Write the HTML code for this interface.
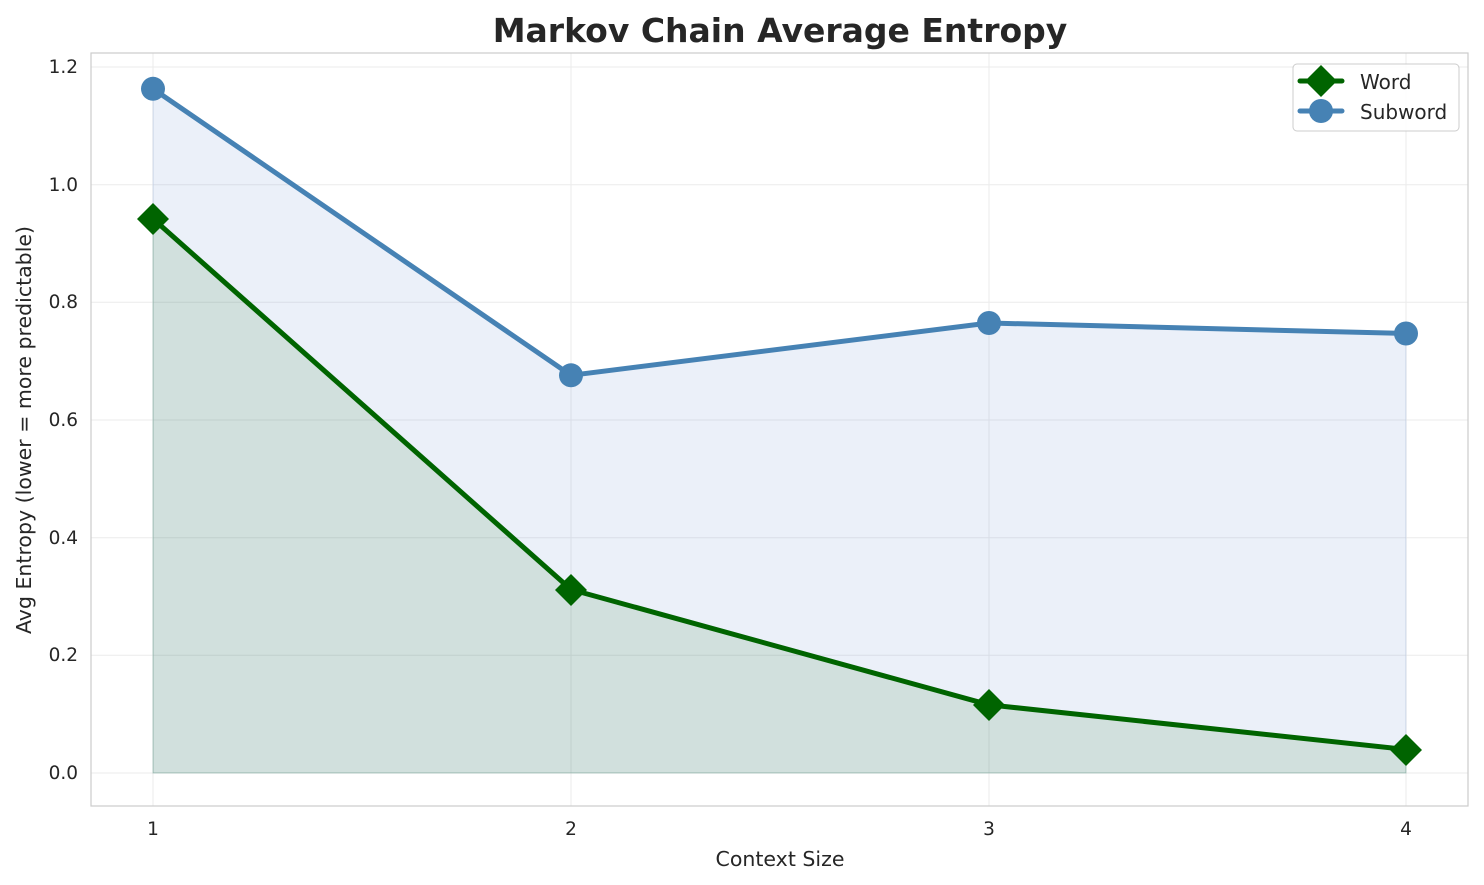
<!DOCTYPE html>
<html><head><meta charset="utf-8"><style>body{margin:0;background:#fff}svg{display:block}text{font-family:"DejaVu Sans","Liberation Sans",sans-serif;fill:#262626}</style></head><body>
<svg width="1484" height="885" viewBox="0 0 1484 885">
<rect width="1484" height="885" fill="#fff"/>
<g stroke="#ebebeb" stroke-width="1">
<line x1="153" y1="53" x2="153" y2="806"/><line x1="571" y1="53" x2="571" y2="806"/><line x1="989" y1="53" x2="989" y2="806"/><line x1="1406" y1="53" x2="1406" y2="806"/>
<line x1="91" y1="773" x2="1468" y2="773"/><line x1="91" y1="655.3" x2="1468" y2="655.3"/><line x1="91" y1="537.7" x2="1468" y2="537.7"/><line x1="91" y1="420" x2="1468" y2="420"/><line x1="91" y1="302.3" x2="1468" y2="302.3"/><line x1="91" y1="184.7" x2="1468" y2="184.7"/><line x1="91" y1="67" x2="1468" y2="67"/>
</g>
<polygon points="153,88.8 571,375.3 989,323 1406,333.5 1406,773 153,773" fill="#4a78c8" fill-opacity="0.11" stroke="#4a78c8" stroke-opacity="0.15"/>
<polygon points="153,218.8 571,589.5 989,704.8 1406,749.5 1406,773 153,773" fill="#006400" fill-opacity="0.11" stroke="#006400" stroke-opacity="0.15"/>
<rect x="91" y="53" width="1377" height="753" fill="none" stroke="#ccc" stroke-width="1.2"/>
<polyline points="153,88.8 571,375.3 989,323 1406,333.5" fill="none" stroke="#4682b4" stroke-width="5" stroke-linejoin="round"/>
<g fill="#4682b4"><circle cx="153" cy="88.8" r="12"/><circle cx="571" cy="375.3" r="12"/><circle cx="989" cy="323" r="12"/><circle cx="1406" cy="333.5" r="12"/></g>
<polyline points="153,218.8 571,589.5 989,704.8 1406,749.5" fill="none" stroke="#006400" stroke-width="5" stroke-linejoin="round"/>
<g fill="#006400">
<polygon points="153,203 169,219 153,235 137,219"/><polygon points="571,574 587,590 571,606 555,590"/><polygon points="989,689 1005,705 989,721 973,705"/><polygon points="1406,734 1422,750 1406,766 1390,750"/>
</g>
<g font-size="18.5" text-anchor="end">
<text x="78" y="779">0.0</text><text x="78" y="661">0.2</text><text x="78" y="544">0.4</text><text x="78" y="426">0.6</text><text x="78" y="308">0.8</text><text x="78" y="191">1.0</text><text x="78" y="73">1.2</text>
</g>
<g font-size="18.5" text-anchor="middle">
<text x="153" y="835">1</text><text x="571" y="835">2</text><text x="989" y="835">3</text><text x="1406" y="835">4</text>
<text x="780" y="866" font-size="20.5">Context Size</text>
</g>
<text transform="translate(31,430) rotate(-90)" font-size="20.5" text-anchor="middle">Avg Entropy (lower = more predictable)</text>
<text x="780" y="42" font-size="33" font-weight="bold" text-anchor="middle">Markov Chain Average Entropy</text>
<rect x="1293" y="64" width="166" height="67" rx="4" fill="#fff" fill-opacity="0.85" stroke="#ccc"/>
<line x1="1300" y1="81" x2="1342" y2="81" stroke="#006400" stroke-width="5" stroke-linecap="round"/>
<polygon points="1321,65 1337,81 1321,97 1305,81" fill="#006400"/>
<line x1="1300" y1="111" x2="1342" y2="111" stroke="#4682b4" stroke-width="5" stroke-linecap="round"/>
<circle cx="1321" cy="111" r="12" fill="#4682b4"/>
<text x="1360" y="89" font-size="20">Word</text>
<text x="1360" y="119" font-size="20">Subword</text>
</svg>
</body></html>
